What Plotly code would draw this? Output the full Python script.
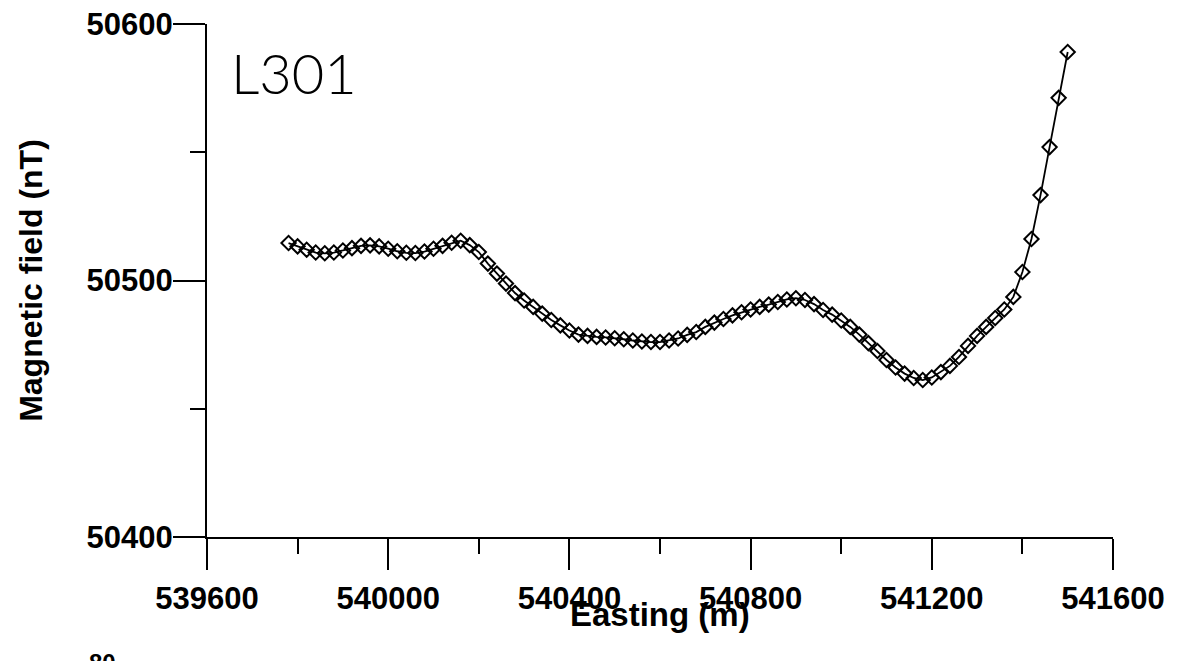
import plotly.graph_objects as go

# Easting positions (m)
easting = [
    539780, 539800, 539820, 539840, 539860, 539880, 539900, 539920, 539940, 539960,
    539980, 540000, 540020, 540040, 540060, 540080, 540100, 540120, 540140, 540160,
    540180, 540200, 540220, 540240, 540260, 540280, 540300, 540320, 540340, 540360,
    540380, 540400, 540420, 540440, 540460, 540480, 540500, 540520, 540540, 540560,
    540580, 540600, 540620, 540640, 540660, 540680, 540700, 540720, 540740, 540760,
    540780, 540800, 540820, 540840, 540860, 540880, 540900, 540920, 540940, 540960,
    540980, 541000, 541020, 541040, 541060, 541080, 541100, 541120, 541140, 541160,
    541180, 541200, 541220, 541240, 541260, 541280, 541300, 541320, 541340, 541360,
    541380, 541400, 541420, 541440, 541460, 541480, 541500,
]

# Magnetic field (nT)
field = [
    50514.6, 50513.3, 50512.0, 50510.9, 50510.6, 50510.9, 50511.7, 50512.6, 50513.5, 50513.7,
    50513.3, 50512.4, 50511.4, 50510.8, 50510.7, 50511.3, 50512.4, 50513.5, 50514.7, 50515.5,
    50513.8, 50511.1, 50506.6, 50502.7, 50498.8, 50495.1, 50492.2, 50489.7, 50487.1, 50484.6,
    50482.5, 50480.5, 50478.9, 50478.4, 50478.0, 50477.8, 50477.5, 50477.1, 50476.6, 50476.2,
    50476.0, 50476.0, 50476.6, 50477.4, 50478.8, 50479.9, 50481.9, 50483.6, 50485.0, 50486.4,
    50487.6, 50488.7, 50489.7, 50490.6, 50491.6, 50492.6, 50493.1, 50492.4, 50490.8, 50488.5,
    50486.7, 50484.4, 50481.9, 50478.9, 50475.6, 50472.5, 50469.0, 50466.1, 50463.7, 50462.0,
    50461.2, 50462.2, 50464.3, 50466.7, 50470.2, 50474.5, 50478.4, 50481.9, 50485.4, 50488.7,
    50493.6, 50503.3, 50516.2, 50533.3, 50552.0, 50571.2, 50589.1,
]

line_label = "L301"
x_title = "Easting (m)"
y_title = "Magnetic field (nT)"

BOLD = "Arial, 'Liberation Sans', sans-serif"

fig = go.Figure()
fig.add_trace(go.Scatter(
    x=easting, y=field, mode="lines+markers",
    line=dict(color="black", width=1.8),
    marker=dict(symbol="diamond-open", size=11, color="black", line=dict(width=2, color="black")),
    showlegend=False,
))

fig.update_layout(
    width=1185, height=661,
    margin=dict(l=207, r=72, t=24, b=124),
    paper_bgcolor="white", plot_bgcolor="white",
    xaxis=dict(
        range=[539600, 541600], tick0=539600, dtick=400,
        showgrid=False, zeroline=False, automargin=False,
        showline=True, linecolor="black", linewidth=2,
        ticks="outside", ticklen=31, tickwidth=2, tickcolor="black",
        tickformat="d", ticklabelstandoff=2,
        tickfont=dict(family=BOLD, size=31, color="black", weight="bold"),
        minor=dict(dtick=200, ticks="outside", ticklen=15, tickwidth=2, tickcolor="black", showgrid=False),
    ),
    yaxis=dict(
        range=[50400, 50600], tick0=50400, dtick=100,
        showgrid=False, zeroline=False, automargin=False,
        showline=True, linecolor="black", linewidth=2,
        ticks="outside", ticklen=32, tickwidth=2, tickcolor="black",
        tickformat="d", ticklabelstandoff=-6,
        tickfont=dict(family=BOLD, size=31, color="black", weight="bold"),
        minor=dict(dtick=50, ticks="outside", ticklen=15, tickwidth=2, tickcolor="black", showgrid=False),
    ),
    annotations=[
        dict(text=x_title, xref="paper", yref="paper", x=0.5, y=-0.112, yanchor="top",
             showarrow=False, font=dict(family=BOLD, size=33, color="black", weight="bold")),
        dict(text=y_title, xref="paper", yref="paper", x=-0.195, y=0.5, xanchor="center",
             textangle=-90, showarrow=False,
             font=dict(family=BOLD, size=32, color="black", weight="bold")),
        dict(text=line_label, xref="paper", yref="paper", x=0.024, y=0.975,
             xanchor="left", yanchor="top", showarrow=False,
             font=dict(family="Lato", size=56, color="black", weight=300)),
        dict(text="80", xref="paper", yref="paper", x=-0.133, y=-0.215,
             xanchor="left", yanchor="top", showarrow=False,
             font=dict(family=BOLD, size=24, color="black", weight="bold")),
    ],
)

fig.write_html("out.html", config={"displayModeBar": False},
               post_script="document.body.style.margin='0';")
